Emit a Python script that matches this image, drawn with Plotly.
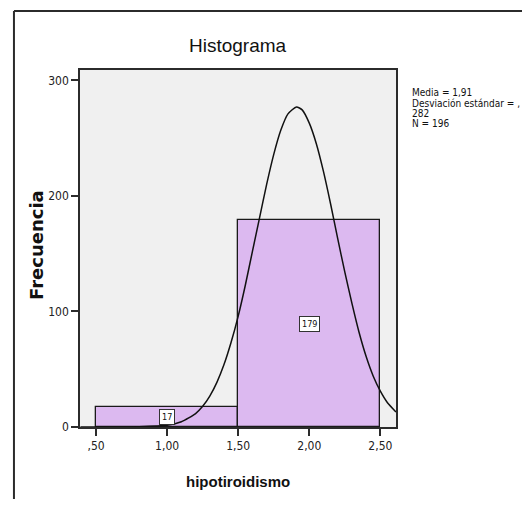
import plotly.graph_objects as go

# histograma de hipotiroidismo (salida tipo SPSS)
BIN_CENTERS = [1.0, 2.0]
BIN_COUNTS = [17, 179]
BIN_WIDTH = 1.0

X_TICKS = [0.5, 1.0, 1.5, 2.0, 2.5]
X_TICK_TEXT = [",50", "1,00", "1,50", "2,00", "2,50"]
Y_TICKS = [0, 100, 200, 300]

# curva normal
CURVE_X = [0.39, 0.6, 0.8, 1.0, 1.1, 1.2, 1.25, 1.3, 1.35, 1.4, 1.45, 1.5, 1.55,
           1.6, 1.65, 1.7, 1.75, 1.8, 1.85, 1.91, 1.95, 2.0, 2.05, 2.1, 2.15,
           2.2, 2.25, 2.3, 2.35, 2.4, 2.45, 2.5, 2.55, 2.61]
CURVE_Y = [0, 0, 0.3, 1.5, 4.5, 11.6, 17.9, 26.7, 38.6, 54, 73.3, 96, 122.7,
           152, 181, 210, 236, 257, 271, 277, 274.5, 263, 245, 221, 193,
           163, 134, 107, 82, 61, 44, 31, 21, 13]

STATS = ["Media = 1,91", "Desviación estándar = ,", "282", "N = 196"]

NARROW = "DejaVu Sans Condensed, Liberation Sans Narrow"
DARK = "#2b2b2b"

fig = go.Figure()

fig.add_trace(go.Bar(
    x=BIN_CENTERS, y=BIN_COUNTS, width=BIN_WIDTH,
    marker=dict(color="#dcb9f0", line=dict(color="#1a1a1a", width=1.3)),
    hoverinfo="skip", showlegend=False
))

fig.add_trace(go.Scatter(
    x=CURVE_X, y=CURVE_Y, mode="lines",
    line=dict(color="#111111", width=1.5, shape="spline", smoothing=0.6),
    hoverinfo="skip", showlegend=False
))

# etiquetas de frecuencia en cada barra
for xc, cnt in zip(BIN_CENTERS, BIN_COUNTS):
    fig.add_annotation(
        x=xc, y=cnt / 2, text=str(cnt), showarrow=False,
        font=dict(family=NARROW, size=9, color="#111"),
        bgcolor="white", bordercolor="#333", borderwidth=1, borderpad=2
    )

# titulo y titulos de ejes
fig.add_annotation(x=0.5, y=1.07, xref="paper", yref="paper", text="Histograma",
                   xanchor="center", yanchor="middle", showarrow=False,
                   font=dict(family="Liberation Sans", size=19, color="#111"))
fig.add_annotation(x=0.5, y=-0.154, xref="paper", yref="paper", text="<b>hipotiroidismo</b>",
                   xanchor="center", yanchor="middle", showarrow=False,
                   font=dict(family="Liberation Sans", size=15, color="#111"))
fig.add_annotation(x=-0.136, y=0.51, xref="paper", yref="paper", text="<b>Frecuencia</b>",
                   xanchor="center", yanchor="middle", textangle=-90, showarrow=False,
                   font=dict(family="DejaVu Sans", size=18, color="#111"))

# estadisticos a la derecha
for i, line in enumerate(STATS):
    fig.add_annotation(x=1.044, y=0.936 - i * 0.029, xref="paper", yref="paper",
                       text=line, showarrow=False, xanchor="left", yanchor="middle",
                       font=dict(family=NARROW, size=10, color="#111"))

# marco exterior (solo lados izquierdo y superior visibles)
fig.add_shape(type="line", xref="paper", yref="paper", x0=-0.209, x1=-0.209, y0=-0.3, y1=1.165,
              line=dict(color=DARK, width=2))
fig.add_shape(type="line", xref="paper", yref="paper", x0=-0.209, x1=1.5, y0=1.165, y1=1.165,
              line=dict(color=DARK, width=2))

# el body de la pagina deja 8px de margen
fig.update_layout(
    width=514, height=491,
    margin=dict(l=72, r=126, t=62, b=72),
    paper_bgcolor="white", plot_bgcolor="#f0f0f0",
    bargap=0, showlegend=False
)

fig.update_xaxes(
    range=[0.387, 2.61], tickvals=X_TICKS, ticktext=X_TICK_TEXT,
    ticks="outside", ticklen=7, tickwidth=1.5, tickcolor=DARK,
    showline=True, mirror=True, linecolor=DARK, linewidth=1.5,
    showgrid=False, zeroline=False,
    tickfont=dict(family=NARROW, size=12, color="#222")
)
fig.update_yaxes(
    range=[0, 309], tickvals=Y_TICKS,
    ticks="outside", ticklen=7, tickwidth=1.5, tickcolor=DARK,
    showline=True, mirror=True, linecolor=DARK, linewidth=1.5,
    showgrid=False, zeroline=False,
    tickfont=dict(family=NARROW, size=12, color="#222")
)

fig.write_html("out.html")
